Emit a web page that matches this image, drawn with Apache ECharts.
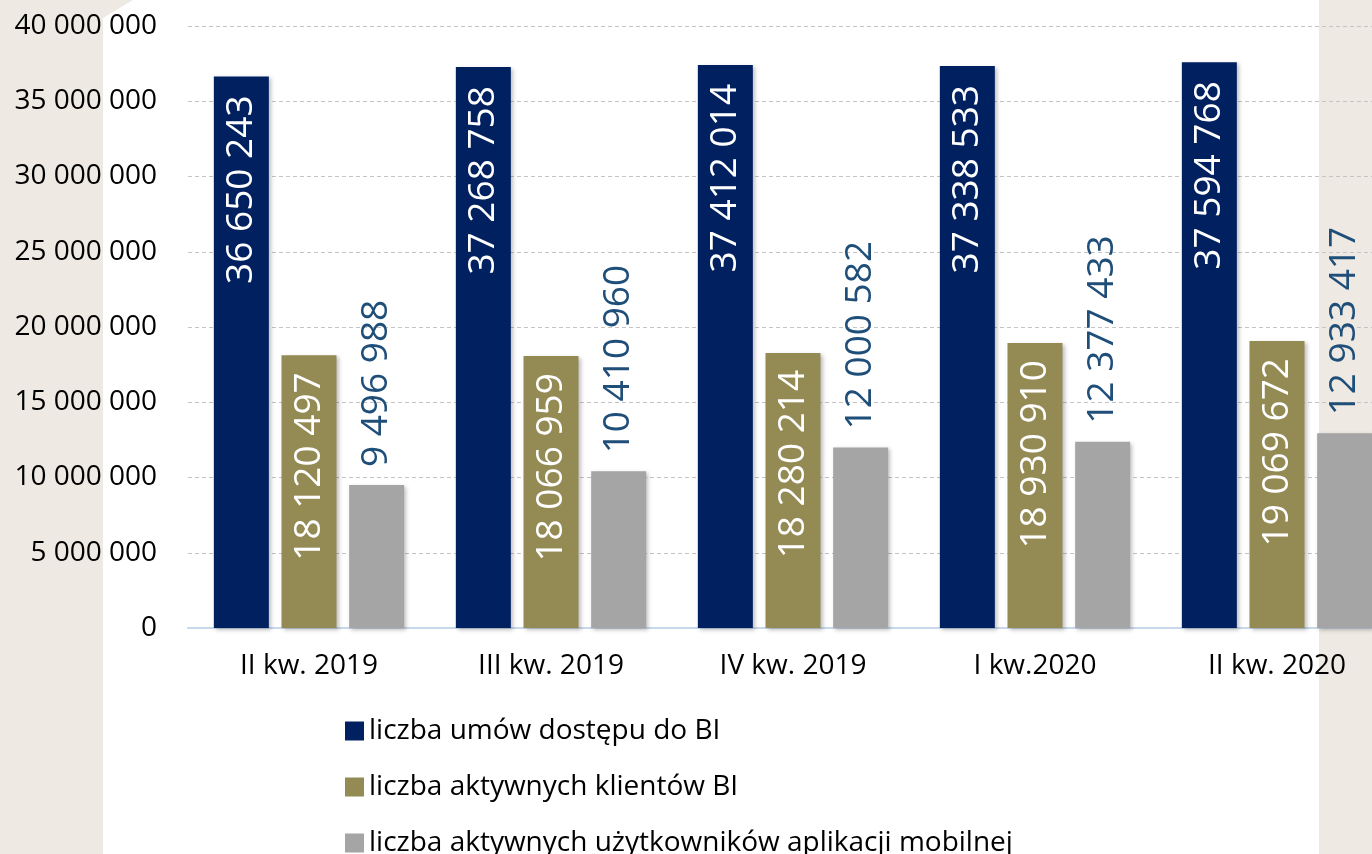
<!DOCTYPE html>
<html>
<head>
<meta charset="utf-8">
<script src="https://cdn.jsdelivr.net/npm/echarts@6/dist/echarts.min.js"></script>
<style>
  html, body { margin: 0; padding: 0; background: #fff; }
  #chart { width: 1372px; height: 854px; }
</style>
</head>
<body>
<div id="chart"></div>
<script>
const quarters = ["II kw. 2019", "III kw. 2019", "IV kw. 2019", "I kw.2020", "II kw. 2020"];
const umowyBI = [36650243, 37268758, 37412014, 37338533, 37594768];
const klienciBI = [18120497, 18066959, 18280214, 18930910, 19069672];
const uzytkownicyMobilni = [9496988, 10410960, 12000582, 12377433, 12933417];
const seriesNames = [
  "liczba umów dostępu do BI",
  "liczba aktywnych klientów BI",
  "liczba aktywnych użytkowników aplikacji mobilnej"
];

const FONT = "Open Sans";
const fmt = v => String(v).replace(/\B(?=(\d{3})+(?!\d))/g, " ");
const shadow = {
  shadowColor: "rgba(0,0,0,0.25)",
  shadowBlur: 4,
  shadowOffsetX: 2,
  shadowOffsetY: 2
};

const chart = echarts.init(document.getElementById("chart"));
chart.setOption({
  animation: false,
  backgroundColor: "#fff",
  textStyle: { fontFamily: FONT },
  graphic: [
    {
      type: "polygon",
      z: -10,
      silent: true,
      shape: { points: [[0, 0], [133, 0], [103, 18], [103, 854], [0, 854]] },
      style: { fill: "#EEEAE3" }
    },
    {
      type: "rect",
      z: -10,
      silent: true,
      shape: { x: 1319, y: 0, width: 53, height: 854 },
      style: { fill: "#EEEAE3" }
    }
  ],
  grid: { left: 188, right: -26, top: 26, bottom: 226, outerBoundsMode: "none" },
  legend: {
    orient: "vertical",
    left: 345,
    top: 717,
    height: 300,
    padding: 0,
    itemWidth: 19,
    itemHeight: 19,
    itemGap: 28,
    itemTextGap: 8,
    icon: "rect",
    textStyle: { fontFamily: FONT, fontSize: 28, color: "#000" },
    data: seriesNames
  },
  xAxis: {
    type: "category",
    data: quarters,
    axisLine: { lineStyle: { color: "#C9D9EC", width: 2 } },
    axisTick: { show: false },
    axisLabel: { fontFamily: FONT, fontSize: 28, color: "#000", margin: 24 }
  },
  yAxis: {
    type: "value",
    min: 0,
    max: 40000000,
    interval: 5000000,
    axisLine: { show: false },
    axisTick: { show: false },
    axisLabel: { fontFamily: FONT, fontSize: 28, color: "#000", margin: 31, formatter: fmt },
    splitLine: { lineStyle: { color: "#C4C4C4", type: [4, 3], width: 1 } }
  },
  series: [
    {
      name: seriesNames[0],
      type: "bar",
      data: umowyBI,
      barWidth: 55,
      barGap: "23%",
      itemStyle: Object.assign({ color: "#002060" }, shadow),
      label: {
        show: true,
        position: "insideTop",
        distance: 19,
        rotate: 90,
        align: "right",
        verticalAlign: "middle",
        fontFamily: FONT,
        fontSize: 37,
        color: "#fff",
        formatter: p => fmt(p.value)
      }
    },
    {
      name: seriesNames[1],
      type: "bar",
      data: klienciBI,
      barWidth: 55,
      barGap: "23%",
      itemStyle: Object.assign({ color: "#948A54" }, shadow),
      label: {
        show: true,
        position: "insideTop",
        distance: 17,
        rotate: 90,
        align: "right",
        verticalAlign: "middle",
        fontFamily: FONT,
        fontSize: 37,
        color: "#fff",
        formatter: p => fmt(p.value)
      }
    },
    {
      name: seriesNames[2],
      type: "bar",
      data: uzytkownicyMobilni,
      barWidth: 55,
      barGap: "23%",
      itemStyle: Object.assign({ color: "#A5A5A5" }, shadow),
      label: {
        show: true,
        position: "top",
        distance: 18,
        rotate: 90,
        align: "left",
        verticalAlign: "middle",
        fontFamily: FONT,
        fontSize: 37,
        color: "#1F4E79",
        formatter: p => fmt(p.value)
      }
    }
  ]
});
</script>
</body>
</html>
